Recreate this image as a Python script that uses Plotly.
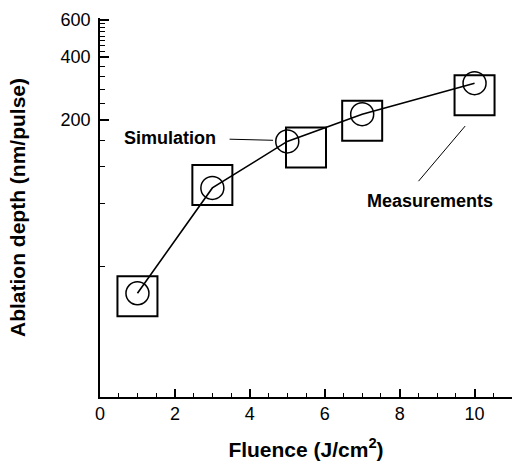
import numpy as np
import plotly.graph_objects as go

# Data
fluence_sim = [1, 3, 5, 7, 10]
depth_sim = [30, 95, 158, 213, 299]
fluence_meas = [1, 3, 5.5, 7, 10]
depth_meas = [29, 98, 148, 198, 262]

y_major = [200, 400, 600]
y_minor = [40, 80, 120, 160, 240, 280, 320, 360,
           425, 450, 475, 500, 525, 550, 575]

FONT = "Liberation Sans, Arial, sans-serif"

fig = go.Figure()
fig.add_trace(go.Scatter(
    x=fluence_meas, y=depth_meas, mode="markers",
    marker=dict(symbol="square-open", size=40, color="black",
                line=dict(width=2, color="black")),
    showlegend=False, hoverinfo="skip"))
fig.add_trace(go.Scatter(
    x=fluence_sim, y=depth_sim, mode="lines+markers",
    line=dict(color="black", width=1.6),
    marker=dict(symbol="circle-open", size=23, color="black",
                line=dict(width=1.5, color="black")),
    showlegend=False, hoverinfo="skip"))

# annotation anchors (data coords; log axis needs log10 for y)
sim_text = (1.87, 164)
sim_line = ((3.42, 162), (4.62, 160))
meas_text = (8.81, 82)
meas_line = ((8.47, 100.6), (9.75, 187))

L = np.log10
fig.add_annotation(x=sim_text[0], y=L(sim_text[1]), text="<b>Simulation</b>",
                   showarrow=False, font=dict(family=FONT, size=18, color="black"))
fig.add_annotation(x=sim_line[1][0], y=L(sim_line[1][1]), ax=sim_line[0][0], ay=L(sim_line[0][1]),
                   axref="x", ayref="y", text="", showarrow=True, arrowhead=0,
                   arrowwidth=1, arrowcolor="black")
fig.add_annotation(x=meas_text[0], y=L(meas_text[1]), text="<b>Measurements</b>",
                   showarrow=False, font=dict(family=FONT, size=18, color="black"))
fig.add_annotation(x=meas_line[1][0], y=L(meas_line[1][1]), ax=meas_line[0][0], ay=L(meas_line[0][1]),
                   axref="x", ayref="y", text="", showarrow=True, arrowhead=0,
                   arrowwidth=1, arrowcolor="black")

fig.update_layout(
    width=512, height=461,
    margin=dict(l=100, r=0, t=18, b=64),
    plot_bgcolor="white", paper_bgcolor="white",
    font=dict(family=FONT, size=18, color="black"),
)
fig.update_xaxes(
    automargin=False,
    range=[0, 11], showline=True, linecolor="black", linewidth=1.5,
    showgrid=False, zeroline=False, ticks="inside", ticklen=8, tickwidth=1.5,
    tickcolor="black", dtick=2, tick0=0, tickfont=dict(size=18),
    minor=dict(dtick=0.5, ticks="inside", ticklen=4, tickwidth=1, tickcolor="black"),
    title=dict(text="<b>Fluence (J/cm<sup>2</sup>)</b>", font=dict(size=21), standoff=20),
)
fig.update_yaxes(
    automargin=False,
    type="log", range=[np.log10(9.64), np.log10(610)],
    showline=True, linecolor="black", linewidth=1.5,
    showgrid=False, zeroline=False, ticks="inside", ticklen=9, tickwidth=1.5,
    tickcolor="black", tickmode="array", tickvals=y_major,
    ticktext=[str(v) for v in y_major], tickfont=dict(size=18), ticklabelstandoff=4,
    minor=dict(tickmode="array", tickvals=y_minor, ticks="inside", ticklen=5,
               tickwidth=1, tickcolor="black"),
    title=dict(text="<b>Ablation depth (nm/pulse)</b>", font=dict(size=21), standoff=29),
)

fig.write_html("out.html", config={"displayModeBar": False},
               post_script="document.body.style.margin='0';document.body.style.overflow='hidden';")
